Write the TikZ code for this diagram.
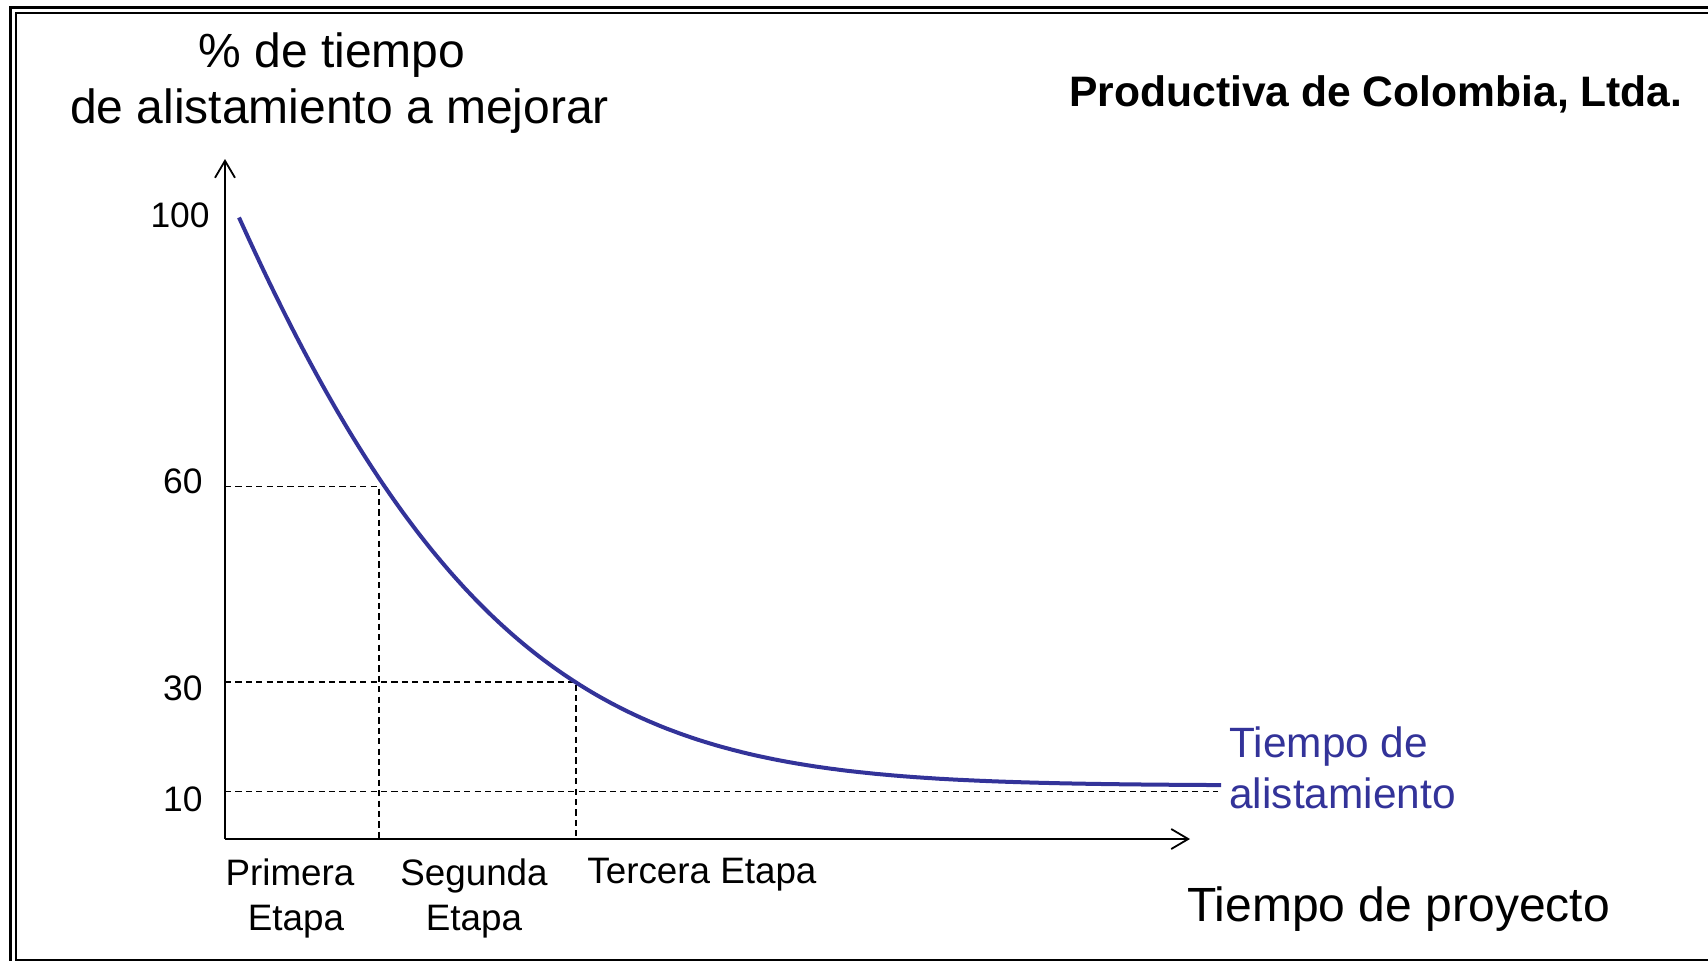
\documentclass[tikz,border=0pt]{standalone}
\usepackage{fontspec}
\setmainfont{Liberation Sans}
\usetikzlibrary{arrows.meta}
\definecolor{curveblue}{RGB}{51,51,153}
\begin{document}
\begin{tikzpicture}[x=0.5pt,y=-0.5pt,
  axisline/.style={line width=1pt,-{Straight Barb[length=8.5pt,width=10pt,line width=0.9pt]}},
  guide/.style={line width=0.95pt,dash pattern=on 3.1pt off 2.1pt},
  tick/.style={anchor=base east,inner sep=0pt,font=\fontsize{17.7}{21}\selectfont},
  stage/.style={anchor=base,inner sep=0pt,font=\fontsize{18.4}{22}\selectfont},
  bigtext/.style={anchor=base,inner sep=0pt,font=\fontsize{24}{28}\selectfont},
  bluetext/.style={anchor=base west,inner sep=0pt,text=curveblue,font=\fontsize{21.2}{25}\selectfont}]
\useasboundingbox (0,0) rectangle (1708,960);
\clip (0,0) rectangle (1708,960);
% frame
\draw[line width=1.5pt] (10.5,7.5) rectangle (1730,975);
\draw[line width=1pt] (15.5,12.5) rectangle (1722,959.5);
% axes
\coordinate (O) at (225,839);
\coordinate (ytop) at (225,159);
\coordinate (xend) at (1190,839);
\draw[axisline] (O) -- (ytop);
\draw[axisline] (O) -- (xend);
% guides
\coordinate (y60) at (225,486.5);
\coordinate (c60) at (379,486.5);
\coordinate (b60) at (379,839);
\coordinate (y30) at (225,682);
\coordinate (c30) at (576,682);
\coordinate (b30) at (576,839);
\coordinate (y10) at (225,791.5);
\coordinate (e10) at (1218,791.5);
\draw[guide] (y60) -- (c60) -- (b60);
\draw[guide] (y30) -- (c30) -- (b30);
\draw[guide] (y10) -- (e10);
% curve
\draw[curveblue,line width=2pt,line join=round]
  plot[domain=0:982,samples=260,variable=\t]
  ({239+\t},{785.5-568*exp(-0.0039*\t-0.0344*(\t/100)*(\t/100))});
% tick labels
\node[tick] (t100) at (210,227) {100};
\node[tick] (t60) at (203,493) {60};
\node[tick] (t30) at (203,700) {30};
\node[tick] (t10) at (203,811) {10};
% titles
\node[bigtext] (yl1) at (332,67) {\% de tiempo};
\node[bigtext] (yl2) at (339.5,123) {de alistamiento a mejorar};
\node[anchor=base west,inner sep=0pt,font=\fontsize{21.3}{25}\selectfont\bfseries] (company) at (1069,106) {Productiva de Colombia, Ltda.};
\node[bigtext,anchor=base west] (xl) at (1187,921) {Tiempo de proyecto};
% curve label
\node[bluetext] (cl1) at (1229,757) {Tiempo de};
\node[bluetext] (cl2) at (1229,808) {alistamiento};
% stages
\node[stage] (s1a) at (290,885) {Primera};
\node[stage] (s1b) at (296,930) {Etapa};
\node[stage] (s2a) at (474,885) {Segunda};
\node[stage] (s2b) at (474,930) {Etapa};
\node[stage,anchor=base west] (s3) at (587,883) {Tercera Etapa};
\end{tikzpicture}
\end{document}
